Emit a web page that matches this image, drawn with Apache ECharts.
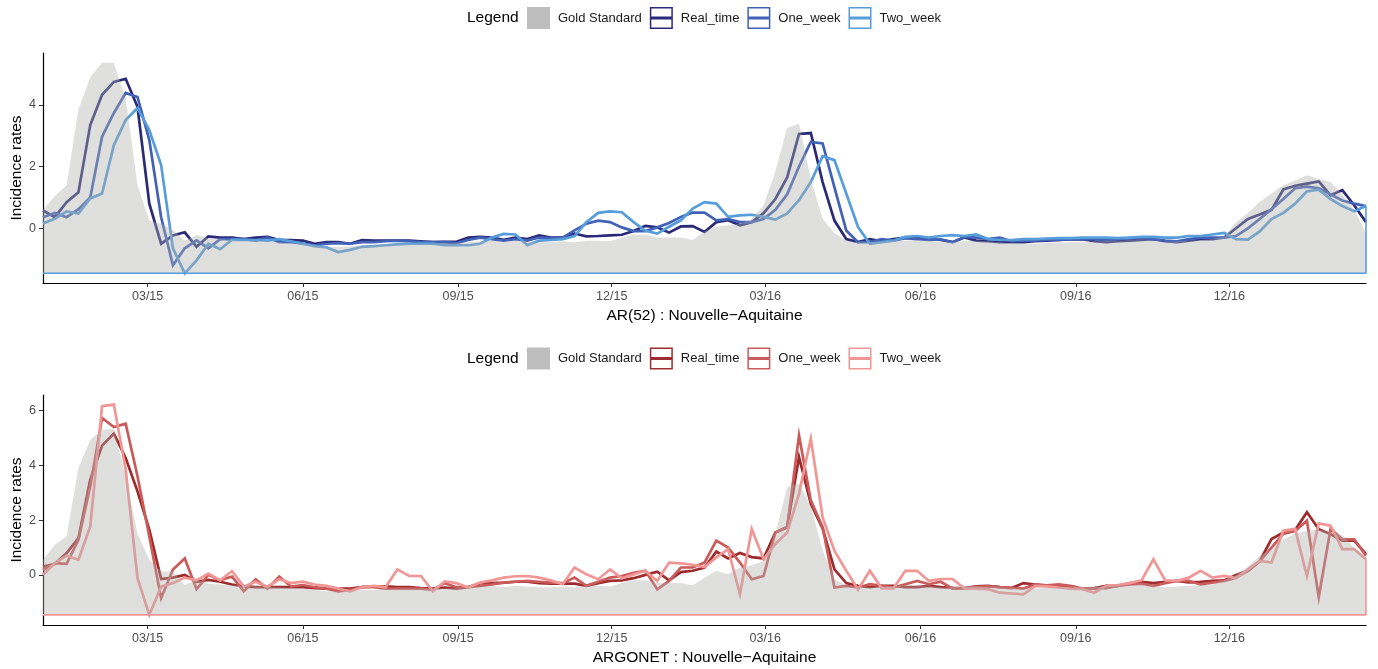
<!DOCTYPE html>
<html><head><meta charset="utf-8">
<script src="https://cdn.jsdelivr.net/npm/echarts@6/dist/echarts.min.js"></script>
<style>html,body{margin:0;padding:0;background:#fff}#c{width:1378px;height:669px}</style>
</head><body><div id="c"></div>
<script>
// ---------- categories / ticks ----------
const X_MIN = '2014-12-29';
const X_MAX = '2017-02-20';
const N_WEEKS = 113;
const TICK_DATES = ['2015-03-01','2015-06-01','2015-09-01','2015-12-01','2016-03-01','2016-06-01','2016-09-01','2016-12-01'];
const TICK_LABELS = ['03/15','06/15','09/15','12/15','03/16','06/16','09/16','12/16'];
const Y_TICKS_AR = [0, 2, 4];
const Y_TICKS_ARGO = [0, 2, 4, 6];
const PANEL_TITLES = ['AR(52) : Nouvelle\u2212Aquitaine', 'ARGONET : Nouvelle\u2212Aquitaine'];
const LEGEND_NAMES = ['Gold Standard', 'Real_time', 'One_week', 'Two_week'];
const BASE_AR = -1.46;
const BASE_ARGO = -1.46;

// ---------- values (weekly) ----------
const GOLD_AR = [0.6,1.05,1.4,3.85,4.9,5.37,5.37,4.2,1.4,0.25,
0.15,-0.05,-0.4,-0.22,-0.32,-0.35,-0.38,-0.4,-0.4,-0.42,
-0.45,-0.48,-0.5,-0.55,-0.6,-0.6,-0.58,-0.55,-0.55,-0.52,
-0.5,-0.5,-0.5,-0.5,-0.5,-0.48,-0.45,-0.42,-0.4,-0.45,
-0.4,-0.42,-0.45,-0.45,-0.42,-0.45,-0.4,-0.4,-0.42,-0.3,
-0.2,-0.2,-0.3,-0.3,-0.3,-0.38,-0.1,0.05,0.1,0.15,
0.3,0.75,1.85,3.25,3.4,1.6,0.3,-0.15,-0.4,-0.45,
-0.45,-0.42,-0.4,-0.4,-0.38,-0.4,-0.45,-0.45,-0.42,-0.4,
-0.42,-0.45,-0.48,-0.5,-0.5,-0.48,-0.45,-0.45,-0.45,-0.42,
-0.4,-0.4,-0.38,-0.35,-0.4,-0.45,-0.42,-0.4,-0.38,-0.35,
-0.25,0.2,0.5,0.85,1.13,1.4,1.55,1.72,1.6,1.5,
1.1,0.6,-0.15];
const REAL_AR = [0.58,0.36,0.85,1.17,3.35,4.33,4.75,4.85,3.94,0.8,
-0.5,-0.23,-0.13,-0.6,-0.26,-0.3,-0.3,-0.35,-0.3,-0.28,
-0.38,-0.38,-0.4,-0.5,-0.45,-0.45,-0.5,-0.38,-0.4,-0.4,
-0.4,-0.4,-0.42,-0.45,-0.44,-0.44,-0.3,-0.28,-0.3,-0.37,
-0.3,-0.35,-0.23,-0.3,-0.3,-0.17,-0.26,-0.25,-0.23,-0.21,
-0.09,0.08,0.03,-0.14,0.06,0.07,-0.12,0.2,0.26,0.1,
0.2,0.49,0.95,1.65,3.06,3.09,1.5,0.25,-0.35,-0.45,
-0.35,-0.42,-0.35,-0.3,-0.32,-0.35,-0.38,-0.45,-0.3,-0.4,
-0.42,-0.45,-0.45,-0.45,-0.42,-0.4,-0.38,-0.36,-0.35,-0.42,
-0.45,-0.42,-0.4,-0.38,-0.35,-0.42,-0.45,-0.4,-0.35,-0.35,
-0.3,0.0,0.3,0.45,0.6,1.26,1.38,1.45,1.52,1.07,
1.24,0.75,0.2];
const ONE_AR = [0.36,0.5,0.36,0.62,1.0,2.97,3.74,4.39,4.26,2.86,
0.36,-1.2,-0.65,-0.39,-0.65,-0.35,-0.35,-0.35,-0.4,-0.3,
-0.45,-0.45,-0.5,-0.55,-0.5,-0.48,-0.5,-0.45,-0.45,-0.42,
-0.4,-0.42,-0.45,-0.45,-0.45,-0.48,-0.38,-0.3,-0.35,-0.4,
-0.35,-0.4,-0.3,-0.32,-0.3,-0.07,0.15,0.25,0.2,0.03,
-0.09,-0.09,0.03,0.17,0.37,0.51,0.51,0.26,0.3,0.2,
0.2,0.3,0.6,1.1,2.0,2.8,2.75,1.33,-0.07,-0.45,
-0.45,-0.35,-0.4,-0.32,-0.35,-0.38,-0.36,-0.45,-0.28,-0.3,
-0.35,-0.3,-0.42,-0.4,-0.4,-0.38,-0.38,-0.35,-0.35,-0.35,
-0.38,-0.35,-0.32,-0.3,-0.35,-0.4,-0.42,-0.35,-0.3,-0.3,
-0.3,-0.25,0.0,0.3,0.62,0.95,1.3,1.35,1.3,1.1,
0.9,0.8,0.72];
const TWO_AR = [0.16,0.31,0.55,0.48,0.97,1.13,2.7,3.51,3.9,3.19,
2.05,-0.65,-1.46,-1.04,-0.5,-0.68,-0.37,-0.38,-0.38,-0.4,
-0.35,-0.42,-0.5,-0.58,-0.62,-0.77,-0.7,-0.6,-0.58,-0.55,
-0.52,-0.5,-0.5,-0.5,-0.55,-0.55,-0.55,-0.5,-0.3,-0.18,
-0.2,-0.55,-0.4,-0.38,-0.35,-0.25,0.2,0.5,0.55,0.52,
0.2,-0.08,-0.17,0.05,0.26,0.64,0.85,0.8,0.37,0.42,
0.44,0.37,0.28,0.48,0.91,1.5,2.34,2.21,1.13,0.04,
-0.5,-0.45,-0.4,-0.28,-0.25,-0.3,-0.25,-0.22,-0.25,-0.2,
-0.35,-0.38,-0.38,-0.35,-0.35,-0.33,-0.32,-0.32,-0.3,-0.3,
-0.3,-0.32,-0.3,-0.28,-0.28,-0.3,-0.3,-0.25,-0.25,-0.2,
-0.15,-0.35,-0.37,-0.1,0.3,0.5,0.8,1.2,1.25,0.95,
0.72,0.55,0.72];

const GOLD_ARGO = [0.55,1.1,1.4,3.9,4.94,5.3,5.33,3.6,1.5,0.55,
0.12,0.12,-0.37,-0.18,-0.32,-0.35,-0.38,-0.4,-0.4,-0.42,
-0.45,-0.48,-0.5,-0.55,-0.6,-0.6,-0.58,-0.55,-0.55,-0.52,
-0.5,-0.5,-0.5,-0.5,-0.5,-0.48,-0.45,-0.42,-0.4,-0.45,
-0.4,-0.42,-0.45,-0.45,-0.42,-0.45,-0.4,-0.4,-0.42,-0.3,
-0.2,-0.2,-0.3,-0.3,-0.3,-0.38,-0.1,0.15,0.02,0.27,
0.35,0.5,1.5,3.2,3.35,2.5,0.9,-0.15,-0.4,-0.45,
-0.45,-0.42,-0.4,-0.4,-0.38,-0.4,-0.45,-0.45,-0.42,-0.4,
-0.42,-0.45,-0.48,-0.5,-0.5,-0.48,-0.45,-0.45,-0.45,-0.42,
-0.4,-0.4,-0.38,-0.35,-0.4,-0.45,-0.42,-0.4,-0.38,-0.35,
-0.2,0.0,0.3,0.7,0.94,1.3,1.5,1.6,1.67,1.55,
1.45,1.0,0.62];
const REAL_ARGO = [0.3,0.4,0.8,1.34,3.48,4.72,5.16,4.27,3.05,1.65,
-0.15,-0.1,0.0,-0.25,-0.18,-0.25,-0.35,-0.42,-0.45,-0.45,
-0.45,-0.45,-0.45,-0.48,-0.5,-0.5,-0.5,-0.45,-0.42,-0.42,
-0.45,-0.45,-0.48,-0.5,-0.46,-0.5,-0.45,-0.3,-0.3,-0.28,
-0.25,-0.25,-0.3,-0.32,-0.32,-0.32,-0.4,-0.3,-0.22,-0.2,
-0.12,0.0,0.12,-0.2,0.1,0.15,0.27,0.85,0.6,0.8,
0.65,0.6,1.55,1.75,4.3,2.6,1.7,0.2,-0.3,-0.4,
-0.45,-0.4,-0.4,-0.45,-0.45,-0.4,-0.45,-0.47,-0.48,-0.42,
-0.4,-0.45,-0.48,-0.3,-0.35,-0.4,-0.42,-0.48,-0.5,-0.48,
-0.4,-0.4,-0.3,-0.25,-0.3,-0.25,-0.22,-0.27,-0.25,-0.22,
-0.2,0.0,0.15,0.5,1.31,1.55,1.64,2.29,1.67,1.49,
1.25,1.25,0.76];
const ONE_ARGO = [0.18,0.43,0.4,1.28,3.23,5.73,5.4,5.52,3.6,1.4,
-0.85,0.2,0.6,-0.52,0.0,-0.2,-0.06,-0.6,-0.16,-0.5,
-0.06,-0.43,-0.37,-0.45,-0.5,-0.6,-0.55,-0.45,-0.45,-0.5,
-0.5,-0.5,-0.5,-0.55,-0.3,-0.45,-0.45,-0.4,-0.35,-0.28,
-0.25,-0.22,-0.25,-0.28,-0.3,-0.1,-0.4,-0.25,-0.1,-0.04,
0.08,0.15,-0.53,-0.22,0.27,0.27,0.45,1.25,1.0,0.45,
-0.16,-0.04,1.55,1.74,5.1,2.72,1.74,-0.46,-0.4,-0.46,
-0.34,-0.4,-0.46,-0.34,-0.22,-0.34,-0.25,-0.5,-0.5,-0.45,
-0.42,-0.45,-0.47,-0.5,-0.35,-0.38,-0.35,-0.4,-0.5,-0.5,
-0.48,-0.4,-0.35,-0.32,-0.4,-0.3,-0.22,-0.22,-0.35,-0.28,
-0.22,-0.1,0.15,0.5,1.0,1.5,1.6,1.98,-0.81,1.68,
1.3,1.3,0.7];
const TWO_ARGO = [0.0,0.43,0.7,0.55,1.77,6.16,6.22,3.84,-0.12,-1.46,
-0.43,-0.3,-0.1,-0.2,0.05,-0.2,0.14,-0.43,-0.25,-0.43,
-0.16,-0.3,-0.25,-0.35,-0.4,-0.5,-0.6,-0.45,-0.4,-0.45,
0.2,-0.04,-0.04,-0.6,-0.24,-0.3,-0.46,-0.28,-0.2,-0.1,
-0.05,-0.04,-0.1,-0.2,-0.34,0.27,0.02,-0.16,0.2,-0.12,
0.02,0.15,-0.22,0.45,0.42,0.37,0.29,0.64,0.94,-0.71,
1.68,0.57,1.13,1.55,2.96,4.98,2.1,0.88,0.15,-0.53,
0.15,-0.49,-0.49,0.15,0.15,-0.22,-0.15,-0.15,-0.49,-0.5,
-0.52,-0.65,-0.68,-0.71,-0.4,-0.42,-0.46,-0.5,-0.52,-0.65,
-0.4,-0.37,-0.3,-0.2,0.57,-0.2,-0.22,-0.1,0.15,-0.1,
-0.04,-0.12,0.2,0.51,0.45,1.61,1.68,-0.04,1.88,1.8,
0.94,0.94,0.57];

// ---------- styles ----------
const FONT = '"Liberation Sans", Arial, Helvetica, sans-serif';
const COLORS_AR = ['#2b2a78', '#4262b8', '#559ddb'];
const COLORS_ARGO = ['#9e2b2d', '#cb5a5a', '#f29595'];
const GOLD_FILL = '#b0afac';
const GOLD_KEY = '#bebebe';
const PANELS = [
  {top: 53, height: 230, ymin: -1.774, ymax: 5.686, ticks: Y_TICKS_AR, legendY: 18,
   gold: GOLD_AR, lines: [REAL_AR, ONE_AR, TWO_AR], colors: COLORS_AR, base: BASE_AR, title: PANEL_TITLES[0]},
  {top: 395, height: 230, ymin: -1.83, ymax: 6.57, ticks: Y_TICKS_ARGO, legendY: 358.5,
   gold: GOLD_ARGO, lines: [REAL_ARGO, ONE_ARGO, TWO_ARGO], colors: COLORS_ARGO, base: BASE_ARGO, title: PANEL_TITLES[1]}
];

function toTs(s) { const p = s.split('-').map(Number); return Date.UTC(p[0], p[1] - 1, p[2]); }
const T_MIN = toTs(X_MIN), T_MAX = toTs(X_MAX);
const WEEKS = [];
for (let i = 0; i < N_WEEKS; i++) WEEKS.push(Date.UTC(2014, 11, 29 + 7 * i));
const TICK_TS = TICK_DATES.map(toTs);
function pairs(arr) { return arr.map((v, i) => [WEEKS[i], v]); }
function tickLabel(v) {
  const k = TICK_TS.findIndex(t => Math.abs(t - v) < 43200000);
  return k >= 0 ? TICK_LABELS[k] : '';
}
const KEY_PATH = 'path://M0,0H23V22H0Z M1.5,1.5V20.5H21.5V1.5Z M1.5,9.5H21.5V12.5H1.5Z';

const grids = [], xAxes = [], yAxes = [], series = [], legends = [], graphics = [];
PANELS.forEach((p, k) => {
  grids.push({left: 43, right: 12, top: p.top, height: p.height, containLabel: false, outerBoundsMode: 'none'});
  xAxes.push({
    type: 'value', gridIndex: k, min: T_MIN, max: T_MAX, scale: true,
    name: p.title, nameLocation: 'middle', nameGap: 25,
    nameTextStyle: {color: '#000', fontSize: 15.5, fontFamily: FONT},
    axisLine: {show: true, onZero: false, lineStyle: {color: '#000', width: 1.2}},
    axisTick: {show: true, length: 4, customValues: TICK_TS, lineStyle: {color: '#333', width: 1}},
    axisLabel: {show: true, customValues: TICK_TS, formatter: tickLabel, color: '#4d4d4d', fontSize: 12.5, margin: 7, fontFamily: FONT},
    splitLine: {show: false}, minorTick: {show: false}
  });
  yAxes.push({
    type: 'value', gridIndex: k, min: p.ymin, max: p.ymax,
    name: 'Incidence rates', nameLocation: 'middle', nameGap: 18, nameRotate: 90, nameMoveOverlap: false,
    nameTextStyle: {color: '#000', fontSize: 15.5, fontFamily: FONT},
    axisLine: {show: true, onZero: false, lineStyle: {color: '#000', width: 1.2}},
    axisTick: {show: true, length: 4, customValues: p.ticks, lineStyle: {color: '#333', width: 1}},
    axisLabel: {show: true, customValues: p.ticks, color: '#4d4d4d', fontSize: 12.5, margin: 7, fontFamily: FONT},
    splitLine: {show: false}
  });
  LEGEND_NAMES.slice(1).forEach((nm, j) => {
    series.push({
      type: 'line', name: nm, xAxisIndex: k, yAxisIndex: k, data: pairs(p.lines[j]),
      symbol: 'none', showSymbol: false, z: 2,
      lineStyle: {color: p.colors[j], width: 2.7, join: 'miter'},
      itemStyle: {color: p.colors[j]}, silent: true
    });
  });
  series.push({
    type: 'line', name: 'Gold Standard', xAxisIndex: k, yAxisIndex: k, data: pairs(p.gold),
    symbol: 'none', showSymbol: false, z: 3,
    lineStyle: {width: 0, opacity: 0},
    areaStyle: {color: GOLD_FILL, opacity: 0.4, origin: p.base},
    itemStyle: {color: GOLD_KEY}, silent: true
  });
  series.push({
    type: 'line', name: 'baseline' + k, xAxisIndex: k, yAxisIndex: k,
    data: [[T_MIN, p.base], [WEEKS[N_WEEKS - 1], p.base], [WEEKS[N_WEEKS - 1], p.lines[2][N_WEEKS - 1]]],
    symbol: 'none', showSymbol: false, z: 4,
    lineStyle: {color: p.colors[2], width: 1.6}, silent: true
  });
  legends.push({
    top: p.legendY - 11, left: 527, orient: 'horizontal', padding: 0,
    itemWidth: 23, itemHeight: 22, itemGap: 8, selectedMode: false,
    textStyle: {color: '#1a1a1a', fontSize: 13, fontFamily: FONT, padding: [0, 0, 0, 3]},
    data: [
      {name: 'Gold Standard', icon: 'rect', itemStyle: {color: GOLD_KEY, borderWidth: 0, opacity: 1}},
      {name: 'Real_time', icon: KEY_PATH, itemStyle: {color: p.colors[0], borderWidth: 0, opacity: 1}},
      {name: 'One_week', icon: KEY_PATH, itemStyle: {color: p.colors[1], borderWidth: 0, opacity: 1}},
      {name: 'Two_week', icon: KEY_PATH, itemStyle: {color: p.colors[2], borderWidth: 0, opacity: 1}}
    ]
  });
  graphics.push({
    type: 'text', x: 467, y: p.legendY,
    style: {text: 'Legend', fill: '#000', font: '15.5px ' + FONT, align: 'left', verticalAlign: 'middle'}
  });
});

const chart = echarts.init(document.getElementById('c'), null, {renderer: 'canvas'});
chart.setOption({
  animation: false,
  backgroundColor: '#fff',
  grid: grids, xAxis: xAxes, yAxis: yAxes, series: series, legend: legends,
  graphic: graphics, tooltip: {show: false}
});
</script>
</body></html>
